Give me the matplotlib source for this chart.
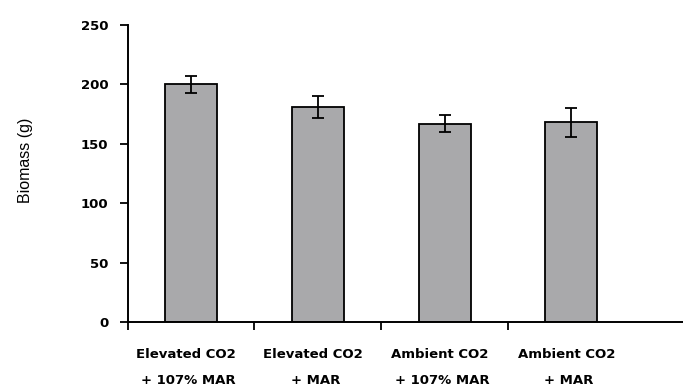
import matplotlib
matplotlib.use("Agg")
import matplotlib.pyplot as plt
import numpy as np

# values
treatments = ["Elevated CO2", "Elevated CO2", "Ambient CO2", "Ambient CO2"]
rainfall = ["+ 107% MAR", "+ MAR", "+ 107% MAR", "+ MAR"]
biomass = [200, 181, 167, 168]
errors = [7, 9, 7, 12]
yticks = [0, 50, 100, 150, 200, 250]


def main():
	fig = plt.figure(figsize=(6.83, 3.91), dpi=100)
	ax = fig.add_axes([0.187, 0.176, 0.813, 0.76])

	x = np.arange(len(biomass))
	ax.bar(x, biomass, width=0.41, color='#a9a9ab', edgecolor='black', linewidth=1.3)
	ax.errorbar(x, biomass, yerr=errors, fmt='none', ecolor='black',
				elinewidth=1.3, capsize=4.5, capthick=1.3)

	ax.set_xlim(-0.49, 3.88)
	ax.set_ylim(0, 250)
	ax.set_yticks(yticks)
	ax.set_yticklabels([str(v) for v in yticks], fontsize=9.5, fontweight='bold')
	ax.set_xticks([-0.5, 0.5, 1.5, 2.5])
	ax.set_xticklabels([])
	ax.tick_params(axis='both', direction='out', length=6, width=1.3, pad=8)

	for side in ['top', 'right']:
		ax.spines[side].set_visible(False)
	for side in ['left', 'bottom']:
		ax.spines[side].set_linewidth(1.4)

	trans = ax.get_xaxis_transform()
	for i in range(len(biomass)):
		ax.text(i - 0.04, -0.11, treatments[i], transform=trans, ha='center', va='center',
				fontsize=9.5, fontweight='bold')
		ax.text(i - 0.02, -0.195, rainfall[i], transform=trans, ha='center', va='center',
				fontsize=9.5, fontweight='bold')

	fig.text(0.037, 0.59, "Biomass (g)", rotation=90, ha='center', va='center',
			 fontsize=11.5, family='Liberation Sans')

	fig.savefig("out.png", dpi=100)


if __name__ == "__main__":
	main()
